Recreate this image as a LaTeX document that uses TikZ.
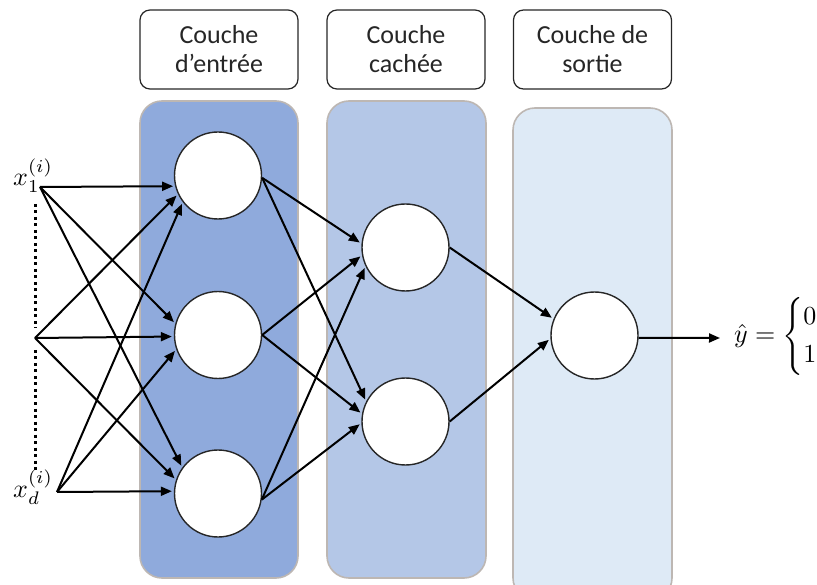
\documentclass[tikz,border=0pt]{standalone}
\usepackage{amsmath}
\usepackage{graphicx}
\usepackage{fontspec}
\setmainfont{Carlito}
\usetikzlibrary{arrows.meta}
\definecolor{pA}{HTML}{8FAADC}
\definecolor{pB}{HTML}{B4C7E7}
\definecolor{pC}{HTML}{DEEAF6}
\definecolor{pborder}{HTML}{BDB7B3}
\definecolor{ink}{HTML}{262626}
\begin{document}
\begin{tikzpicture}[x=1pt,y=-1pt,
  neuron/.style={circle,draw=ink,line width=1.4pt,fill=white,minimum size=87pt,inner sep=0pt},
  panel/.style={draw=pborder,line width=1.6pt,rounded corners=22pt},
  header/.style={draw=ink,line width=1.2pt,rounded corners=10pt,minimum width=158pt,minimum height=79pt,align=center,font=\fontsize{26}{29}\selectfont,text=ink,inner sep=0pt},
  conn/.style={-{Triangle[length=11pt,width=9pt]},line width=2pt,black,shorten >=2pt},
  mathlbl/.style={inner sep=0pt}]
\useasboundingbox (0,0) rectangle (817,585);
% headers
\node[header] (hA) at (219,49.5) {Couche\\d’entrée};
\node[header] (hB) at (406,49.5) {Couche\\cachée};
\node[header] (hC) at (592.5,49.5) {Couche de\\sortie};
% panels
\draw[panel,fill=pA] (140,101) rectangle (298,578);
\draw[panel,fill=pB] (327,101) rectangle (486,578);
\draw[panel,fill=pC] (513,108) rectangle (672,600);
% neurons
\node[neuron] (c1) at (218,175.5) {};
\node[neuron] (c2) at (218,335) {};
\node[neuron] (c3) at (218,493.5) {};
\node[neuron] (h1) at (405.5,247.5) {};
\node[neuron] (h2) at (405.5,421.5) {};
\node[neuron] (o) at (594.5,335.5) {};
% inputs
\node[mathlbl,anchor=base west] (x1) at (13,186) {\scalebox{2.6}{$x_1^{(i)}$}};
\node[mathlbl,anchor=base west] (xd) at (13,497) {\scalebox{2.6}{$x_d^{(i)}$}};
\coordinate (i1) at (40,187);
\coordinate (im) at (35,338);
\coordinate (id) at (57,492);
\draw[line width=3pt,dash pattern=on 3pt off 3.5pt] (35,204) -- (35,328);
\draw[line width=3pt,dash pattern=on 3pt off 3.5pt] (35,350) -- (35,472);
% input -> layer 1
\draw[conn] (i1) -- (c1.194);
\draw[conn] (im) -- (c1.205);
\draw[conn] (id) -- (c1.217);
\draw[conn] (i1) -- (c2.165);
\draw[conn] (im) -- (c2.182);
\draw[conn] (id) -- (c2.199);
\draw[conn] (i1) -- (c3.144);
\draw[conn] (im) -- (c3.162);
\draw[conn] (id) -- (c3.177);
% layer 1 -> hidden
\draw[conn] (c1.357) -- (h1.175);
\draw[conn] (c2.east) -- (h1.190);
\draw[conn] (c3.352) -- (h1.205);
\draw[conn] (c1.357) -- (h2.153);
\draw[conn] (c2.east) -- (h2.170);
\draw[conn] (c3.352) -- (h2.182);
% hidden -> output
\draw[conn] (h1.east) -- (o.158);
\draw[conn] (h2.east) -- (o.184);
% output
\coordinate (yend) at (720,338);
\draw[conn,shorten >=0pt] (o.357) -- (yend);
\node[mathlbl,anchor=west] (yhat) at (734,336) {\scalebox{2.6}{$\hat{y}=\begin{cases}0\\1\end{cases}$}};
\end{tikzpicture}
\end{document}
